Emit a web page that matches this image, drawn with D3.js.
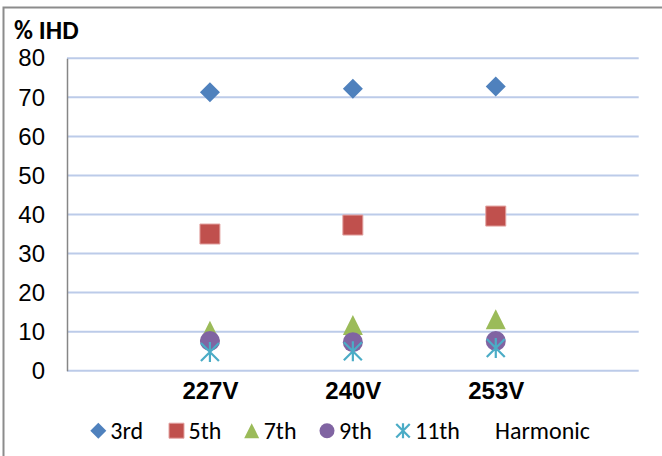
<!DOCTYPE html>
<html>
<head>
<meta charset="utf-8">
<script src="https://cdn.jsdelivr.net/npm/d3@7"></script>
<style>
  body { margin: 0; background: #fff; }
  svg { display: block; font-family: Carlito, Calibri, Lato, sans-serif; }
</style>
</head>
<body>
<svg id="chart" width="662" height="456"></svg>
<script>
// voltages along the x axis
const categories = ["227V", "240V", "253V"];
const yTicks = [0, 10, 20, 30, 40, 50, 60, 70, 80];

// individual harmonic distortion per voltage
const h3 = [71.3, 72.2, 72.8];
const h5 = [35.0, 37.3, 39.6];
const h7 = [10.2, 11.7, 13.2];
const h9 = [7.6, 7.3, 7.6];
const h11 = [4.8, 5.0, 5.8];

const seriesNames = ["3rd", "5th", "7th", "9th", "11th"];
const seriesValues = [h3, h5, h7, h9, h11];
const seriesColors = ["#4f81bd", "#c0504d", "#9bbb59", "#8064a2", "#4bacc6"];
const seriesShapes = ["diamond", "square", "triangle", "circle", "star"];

const svg = d3.select("#chart");

const x = d3.scaleLinear().domain([0, categories.length + 1]).range([67, 638.7]);
const y = d3.scaleLinear().domain([0, 80]).range([370.7, 58.3]);

// marker path, r is the half size
const markerPath = (shape, r) => {
  if (shape === "diamond") return `M0,${-r}L${r},0L0,${r}L${-r},0Z`;
  if (shape === "square") return `M${-r},${-r}H${r}V${r}H${-r}Z`;
  if (shape === "triangle") return `M0,${-r}L${r},${r}H${-r}Z`;
  if (shape === "circle")
    return d3.arc()({ innerRadius: 0, outerRadius: r, startAngle: 0, endAngle: 2 * Math.PI });
  const d = r * 0.9;
  return `M0,${-r}V${r}M${-d},${-d}L${d},${d}M${d},${-d}L${-d},${d}`;
};

const drawMarker = (g, shape, color, r) => {
  const p = g.append("path").attr("d", markerPath(shape, r));
  if (shape === "star") {
    p.attr("fill", "none").attr("stroke", color).attr("stroke-width", 2.2);
  } else if (shape === "square") {
    p.attr("fill", color).attr("stroke", "#e3a3a1").attr("stroke-width", 1);
  } else {
    p.attr("fill", color);
  }
};

// chart border
svg.append("path")
  .attr("d", "M3.5,460V7.5H670")
  .attr("fill", "none")
  .attr("stroke", "#8c8c8c")
  .attr("stroke-width", 2);

// gridlines
svg.append("g")
  .selectAll("line")
  .data(yTicks)
  .enter()
  .append("line")
  .attr("x1", x.range()[0])
  .attr("x2", x.range()[1])
  .attr("y1", (d) => y(d))
  .attr("y2", (d) => y(d))
  .attr("stroke", "#bccbe9")
  .attr("stroke-width", 2);

// y axis
const yAxis = svg.append("g")
  .attr("transform", `translate(${x.range()[0]},0)`)
  .call(d3.axisLeft(y).tickValues(yTicks).tickSize(0).tickPadding(22));
yAxis.select(".domain").attr("stroke", "#868686").attr("stroke-width", 1.5);
yAxis.selectAll("text")
  .attr("font-family", null)
  .attr("font-size", 24)
  .attr("fill", "#000");

// x axis labels
const xAxis = svg.append("g")
  .attr("transform", `translate(0,${y(0)})`)
  .call(
    d3.axisBottom(x)
      .tickValues(categories.map((c, i) => i + 1))
      .tickFormat((d) => categories[d - 1])
      .tickSize(0)
      .tickPadding(11)
  );
xAxis.select(".domain").remove();
xAxis.selectAll("text")
  .attr("font-family", null)
  .attr("font-size", 24)
  .attr("font-weight", "bold")
  .attr("fill", "#000");

// axis title
svg.append("text")
  .attr("x", 14)
  .attr("y", 38.5)
  .attr("font-size", 26)
  .attr("font-weight", "bold")
  .text("% IHD");

// points
seriesValues.forEach((vals, s) => {
  const g = svg.append("g");
  vals.forEach((v, i) => {
    const m = g.append("g").attr("transform", `translate(${x(i + 1)},${y(v)})`);
    drawMarker(m, seriesShapes[s], seriesColors[s], 10);
  });
});

// legend
const legendX = [98.3, 176.5, 251.7, 327, 403];
const legend = svg.append("g").attr("font-size", 24);
seriesNames.forEach((name, s) => {
  const m = legend.append("g").attr("transform", `translate(${legendX[s]},430.7)`);
  drawMarker(m, seriesShapes[s], seriesColors[s], seriesShapes[s] === "diamond" ? 8 : 7.5);
  legend.append("text")
    .attr("x", legendX[s] + 12)
    .attr("y", 438.8)
    .text(name);
});
legend.append("text")
  .attr("x", 495)
  .attr("y", 438.8)
  .text("Harmonic");
</script>
</body>
</html>
